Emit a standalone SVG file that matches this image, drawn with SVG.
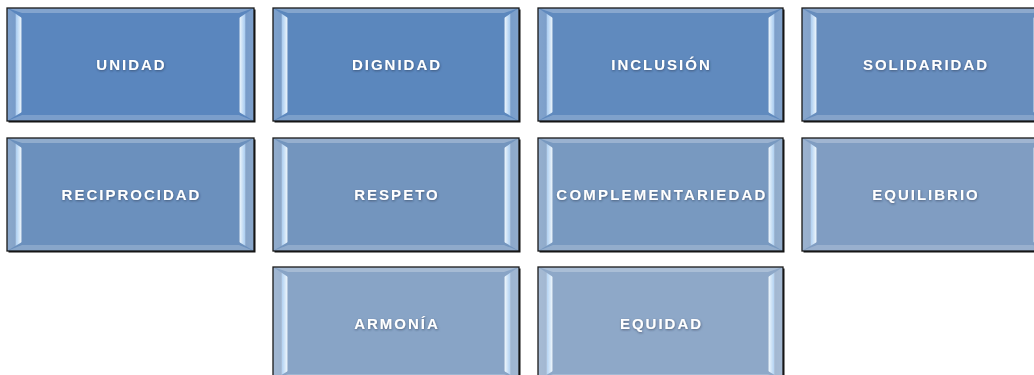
<svg xmlns="http://www.w3.org/2000/svg" width="1034" height="375" viewBox="0 0 1034 375">
<defs>
<linearGradient id="gl" x1="0" y1="0" x2="1" y2="0">
<stop offset="0" stop-color="#ffffff" stop-opacity="0.22"/>
<stop offset="0.55" stop-color="#ffffff" stop-opacity="0.18"/>
<stop offset="0.63" stop-color="#c4e2ff" stop-opacity="0.8"/>
<stop offset="0.9" stop-color="#eef8ff" stop-opacity="0.92"/>
<stop offset="1" stop-color="#ffffff" stop-opacity="0.15"/>
</linearGradient>
<linearGradient id="gr" x1="0" y1="0" x2="1" y2="0">
<stop offset="0" stop-color="#ffffff" stop-opacity="0.15"/>
<stop offset="0.1" stop-color="#eef8ff" stop-opacity="0.92"/>
<stop offset="0.37" stop-color="#c4e2ff" stop-opacity="0.8"/>
<stop offset="0.45" stop-color="#ffffff" stop-opacity="0.18"/>
<stop offset="1" stop-color="#ffffff" stop-opacity="0.22"/>
</linearGradient>
<filter id="ts" x="-10%" y="-40%" width="120%" height="180%">
<feDropShadow dx="0.5" dy="1" stdDeviation="1" flood-color="#1a2a40" flood-opacity="0.55"/>
</filter>
</defs>
<style>
.sh{fill:#111111}
.fr{fill:none;stroke:#1a1a1a;stroke-width:1.3}
.top{fill:#ffffff;fill-opacity:0.25}
.bot{fill:#ffffff;fill-opacity:0.2}
.lf{fill:url(#gl)}
.rt{fill:url(#gr)}
.t{font-family:"Liberation Sans",Arial,sans-serif;font-weight:bold;font-size:15px;letter-spacing:2px;fill:#ffffff;text-anchor:middle;filter:url(#ts)}
</style>
<rect width="1034" height="375" fill="#ffffff"/>
<g id="connectors"/>
<g id="n1" transform="translate(7,8)">
<rect class="sh" x="1.5" y="1.5" width="247" height="113"/>
<rect width="247" height="113" fill="#5a86be"/>
<polygon class="top" points="0,0 247,0 232,5 15,5"/>
<polygon class="bot" points="0,113 247,113 232,107 15,107"/>
<polygon class="lf" points="0,0 15,10 15,104 0,113"/>
<polygon class="rt" points="232,10 247,0 247,113 232,104"/>
<rect class="fr" width="247" height="113"/>
<text class="t" x="124.5" y="62">UNIDAD</text>
</g>
<g id="n2" transform="translate(273,8)">
<rect class="sh" x="1.5" y="1.5" width="246" height="113"/>
<rect width="246" height="113" fill="#5b87bd"/>
<polygon class="top" points="0,0 246,0 231,5 15,5"/>
<polygon class="bot" points="0,113 246,113 231,107 15,107"/>
<polygon class="lf" points="0,0 15,10 15,104 0,113"/>
<polygon class="rt" points="231,10 246,0 246,113 231,104"/>
<rect class="fr" width="246" height="113"/>
<text class="t" x="124" y="62">DIGNIDAD</text>
</g>
<g id="n3" transform="translate(538,8)">
<rect class="sh" x="1.5" y="1.5" width="245" height="113"/>
<rect width="245" height="113" fill="#608abe"/>
<polygon class="top" points="0,0 245,0 230,5 15,5"/>
<polygon class="bot" points="0,113 245,113 230,107 15,107"/>
<polygon class="lf" points="0,0 15,10 15,104 0,113"/>
<polygon class="rt" points="230,10 245,0 245,113 230,104"/>
<rect class="fr" width="245" height="113"/>
<text class="t" x="123.5" y="62">INCLUSIÓN</text>
</g>
<g id="n4" transform="translate(802,8)">
<rect class="sh" x="1.5" y="1.5" width="246" height="113"/>
<rect width="246" height="113" fill="#678dbd"/>
<polygon class="top" points="0,0 246,0 231,5 15,5"/>
<polygon class="bot" points="0,113 246,113 231,107 15,107"/>
<polygon class="lf" points="0,0 15,10 15,104 0,113"/>
<polygon class="rt" points="231,10 246,0 246,113 231,104"/>
<rect class="fr" width="246" height="113"/>
<text class="t" x="124" y="62">SOLIDARIDAD</text>
</g>
<g id="n5" transform="translate(7,138)">
<rect class="sh" x="1.5" y="1.5" width="247" height="113"/>
<rect width="247" height="113" fill="#6b90bd"/>
<polygon class="top" points="0,0 247,0 232,5 15,5"/>
<polygon class="bot" points="0,113 247,113 232,107 15,107"/>
<polygon class="lf" points="0,0 15,10 15,104 0,113"/>
<polygon class="rt" points="232,10 247,0 247,113 232,104"/>
<rect class="fr" width="247" height="113"/>
<text class="t" x="124.5" y="62">RECIPROCIDAD</text>
</g>
<g id="n6" transform="translate(273,138)">
<rect class="sh" x="1.5" y="1.5" width="246" height="113"/>
<rect width="246" height="113" fill="#7395be"/>
<polygon class="top" points="0,0 246,0 231,5 15,5"/>
<polygon class="bot" points="0,113 246,113 231,107 15,107"/>
<polygon class="lf" points="0,0 15,10 15,104 0,113"/>
<polygon class="rt" points="231,10 246,0 246,113 231,104"/>
<rect class="fr" width="246" height="113"/>
<text class="t" x="124" y="62">RESPETO</text>
</g>
<g id="n7" transform="translate(538,138)">
<rect class="sh" x="1.5" y="1.5" width="245" height="113"/>
<rect width="245" height="113" fill="#7899c0"/>
<polygon class="top" points="0,0 245,0 230,5 15,5"/>
<polygon class="bot" points="0,113 245,113 230,107 15,107"/>
<polygon class="lf" points="0,0 15,10 15,104 0,113"/>
<polygon class="rt" points="230,10 245,0 245,113 230,104"/>
<rect class="fr" width="245" height="113"/>
<text class="t" x="124" y="62" style="letter-spacing:2.2px">COMPLEMENTARIEDAD</text>
</g>
<g id="n8" transform="translate(802,138)">
<rect class="sh" x="1.5" y="1.5" width="246" height="113"/>
<rect width="246" height="113" fill="#809dc2"/>
<polygon class="top" points="0,0 246,0 231,5 15,5"/>
<polygon class="bot" points="0,113 246,113 231,107 15,107"/>
<polygon class="lf" points="0,0 15,10 15,104 0,113"/>
<polygon class="rt" points="231,10 246,0 246,113 231,104"/>
<rect class="fr" width="246" height="113"/>
<text class="t" x="124" y="62">EQUILIBRIO</text>
</g>
<g id="n9" transform="translate(273,267)">
<rect class="sh" x="1.5" y="1.5" width="246" height="113"/>
<rect width="246" height="113" fill="#88a4c6"/>
<polygon class="top" points="0,0 246,0 231,5 15,5"/>
<polygon class="bot" points="0,113 246,113 231,107 15,107"/>
<polygon class="lf" points="0,0 15,10 15,104 0,113"/>
<polygon class="rt" points="231,10 246,0 246,113 231,104"/>
<rect class="fr" width="246" height="113"/>
<text class="t" x="124" y="61.5">ARMONÍA</text>
</g>
<g id="n10" transform="translate(538,267)">
<rect class="sh" x="1.5" y="1.5" width="245" height="113"/>
<rect width="245" height="113" fill="#8ea8c8"/>
<polygon class="top" points="0,0 245,0 230,5 15,5"/>
<polygon class="bot" points="0,113 245,113 230,107 15,107"/>
<polygon class="lf" points="0,0 15,10 15,104 0,113"/>
<polygon class="rt" points="230,10 245,0 245,113 230,104"/>
<rect class="fr" width="245" height="113"/>
<text class="t" x="123.5" y="61.5">EQUIDAD</text>
</g>
</svg>
